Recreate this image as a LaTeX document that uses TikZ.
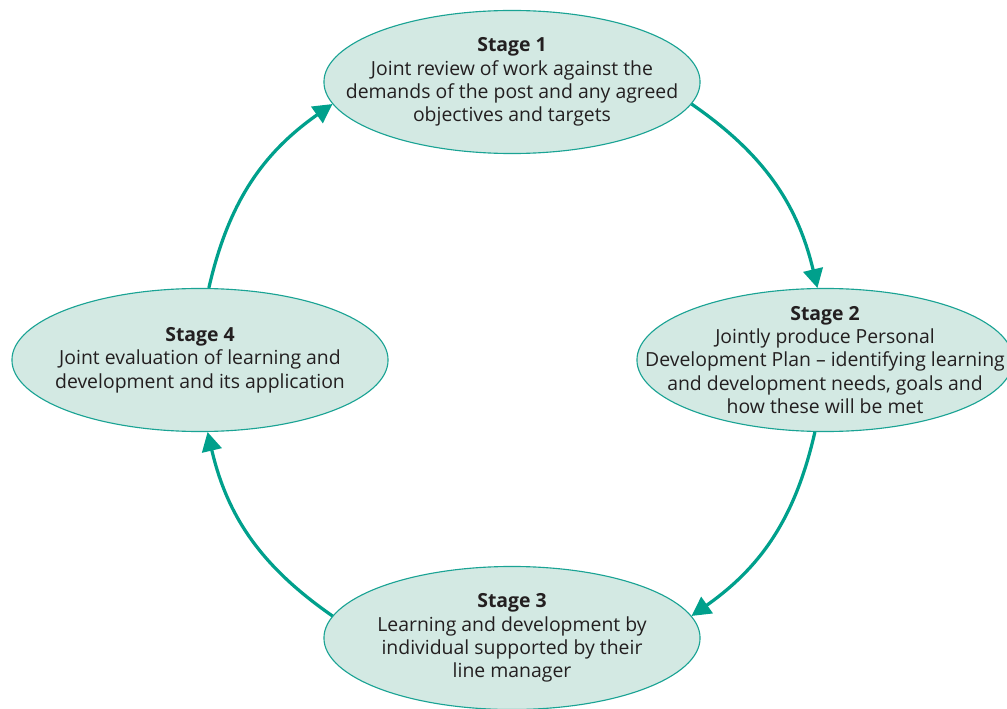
\documentclass[tikz,border=0pt]{standalone}
\usepackage{fontspec}
\setmainfont{Open Sans}
\usetikzlibrary{shapes.geometric}
\usetikzlibrary{arrows.meta}

\definecolor{stagefill}{HTML}{D3E9E3}
\definecolor{stageline}{HTML}{1AA394}
\definecolor{flowline}{HTML}{00A08C}
\definecolor{stagetext}{HTML}{231F20}

\begin{document}
\begin{tikzpicture}[x=0.025cm, y=-0.025cm]
    \tikzstyle{stage} = [ellipse, draw=stageline, fill=stagefill, line width=0.8pt, inner sep=-2cm, minimum width=9.4cm, minimum height=3.575cm, align=center, text=stagetext, font=\fontsize{13.8}{16.6}\selectfont]
    \tikzstyle{flow} = [draw=flowline, line width=2.3pt, -{Triangle[length=13.5pt, width=14pt]}, bend left=21]

    \useasboundingbox (0,0) rectangle (1007,709);

    \node [stage] (stage1) at (512,82) {\textbf{Stage 1}\\Joint review of work against the\\demands of the post and any agreed\\objectives and targets};
    \node [stage] (stage2) at (825,360) {\textbf{Stage 2}\\Jointly produce Personal\\Development Plan -- identifying learning\\and development needs, goals and\\how these will be met};
    \node [stage] (stage3) at (512,638) {\textbf{Stage 3}\\Learning and development by\\individual supported by their\\line manager};
    \node [stage] (stage4) at (200,360) {\textbf{Stage 4}\\Joint evaluation of learning and\\development and its application};

    % the review cycle
    \draw [flow] (stage1.-7) to (stage2.96);
    \draw [flow] (stage2.262) to (stage3.7);
    \draw [flow] (stage3.173) to (stage4.276);
    \draw [flow] (stage4.83) to (stage1.187);
\end{tikzpicture}
\end{document}
